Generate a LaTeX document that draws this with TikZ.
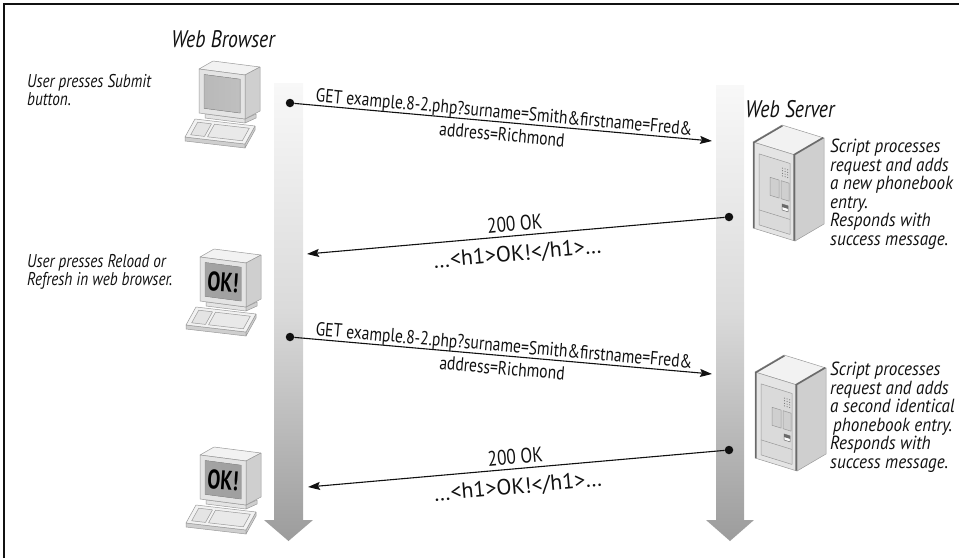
\documentclass[tikz,border=0pt]{standalone}
\usepackage{fontspec}
\setmainfont{PT Sans}[FakeStretch=0.82]
\newfontfamily\notefont{PT Sans}[FakeStretch=0.9]
\newfontfamily\widefont{PT Sans}
\newfontfamily\okfont{PT Sans}[FakeStretch=0.72]
\usetikzlibrary{arrows.meta}

\definecolor{ink}{HTML}{111111}
\definecolor{faceF}{HTML}{E4E4E4}
\definecolor{faceT}{HTML}{F2F2F2}
\definecolor{faceS}{HTML}{CFCFCF}
\definecolor{edge}{HTML}{9A9A9A}
\definecolor{rail}{HTML}{6A6A6A}
\definecolor{panel}{HTML}{DADADA}
\definecolor{keys}{HTML}{E9E9E9}
\definecolor{bandtop}{HTML}{F8F8F8}
\definecolor{bandmid}{HTML}{DADADA}
\definecolor{bandbot}{HTML}{9C9C9C}

\tikzset{
  part/.style={draw=edge, line width=0.5pt, line join=round},
  band/.style={top color=bandtop, bottom color=bandbot, middle color=bandmid},
  msg/.style={draw=ink, line width=1.1pt, -{Stealth[length=12pt,width=8pt,inset=2pt]}},
  dot/.style={circle, fill=ink, inner sep=0pt, minimum size=8.5pt},
  reqtext/.style={font=\fontsize{19}{21}\selectfont, text=ink, sloped, inner sep=0pt},
  resptext/.style={font=\fontsize{21}{24}\selectfont, text=ink, sloped, inner sep=0pt},
  bodytext/.style={font=\widefont\fontsize{22}{24}\selectfont, text=ink, sloped, inner sep=0pt},
  role/.style={font=\fontsize{24}{26}\selectfont\itshape, text=ink},
  note/.style={font=\fontsize{18.5}{17.8}\selectfont\itshape, text=ink, align=left,
    inner sep=0pt, anchor=north west},
  srvnote/.style={note, font=\notefont\fontsize{19}{18.5}\selectfont\itshape},
  screenblank/.style={left color=gray!55, middle color=gray!12, right color=gray!50},
  screenok/.style={left color=gray!72, middle color=gray!25, right color=gray!75},
  okmark/.style={font=\okfont\fontsize{27}{27}\selectfont\bfseries, text=black, inner sep=0pt},
  % desktop computer: monitor, stand and keyboard; #1 is the screen fill
  pics/pc/.style={code={
    \filldraw[part, fill=faceF] (6,44.8) -- (46,50) -- (46,54) -- (6,49) -- cycle;
    \filldraw[part, fill=faceS] (46,50) -- (57,45) -- (57,49) -- (46,54) -- cycle;
    \filldraw[part, fill=faceT] (0,0) -- (14,-8) -- (61,-2) -- (46,6) -- cycle;
    \filldraw[part, fill=faceS] (46,6) -- (61,-2) -- (61,42) -- (46,50) -- cycle;
    \filldraw[part, fill=faceF] (0,0) -- (46,6) -- (46,50) -- (0,44) -- cycle;
    \filldraw[part, #1] (5,5.5) -- (41,10.2) -- (41,44) -- (5,39.3) -- cycle;
    \filldraw[part, fill=faceS] (-14,68) -- (46,75) -- (46,79) -- (-14,72) -- cycle;
    \filldraw[part, fill=faceS] (46,75) -- (56,57) -- (56,61) -- (46,79) -- cycle;
    \filldraw[part, fill=faceT] (-4,50) -- (56,57) -- (46,75) -- (-14,68) -- cycle;
    \filldraw[part, fill=faceF] (-1.3,53.2) -- (12.5,54.8) -- (5.5,67.4) -- (-8.3,65.8) -- cycle;
    \filldraw[part, fill=keys] (15.5,55.2) -- (50.3,59.2) -- (43.3,71.8) -- (8.5,67.8) -- cycle;
  }},
  pics/pcok/.style={code={
    \pic {pc=screenok};
    \node[okmark, rotate=-4] (-ok) at (23,25) {OK!};
  }},
  % rack server cabinet seen from the front left
  pics/server/.style={code={
    \filldraw[part, fill=faceT] (0,0) -- (29,-17) -- (71,-4) -- (42,13) -- cycle;
    \filldraw[part, fill=faceS] (42,13) -- (71,-4) -- (71,82) -- (42,99) -- cycle;
    \begin{scope}[yslant=-0.3095]
      \filldraw[part, fill=faceF] (0,0) rectangle (42,86);
      \filldraw[part, fill=panel] (6,10) rectangle (37,81);
      \foreach \i in {0,1,2}
        \foreach \j in {0,1,2,3}
          \fill[rail] (29.5+2.6*\i,17+2.6*\j) circle[radius=0.55pt];
      \filldraw[part, fill=faceS] (17,30) rectangle (26,48);
      \filldraw[part, fill=faceS] (28,30) rectangle (36,48);
      \filldraw[draw=rail, fill=white, line width=0.5pt] (29,53) rectangle (35,59);
      \fill[rail] (29,53) rectangle (35,56);
      \draw[part] (6,66) -- (37,66);
    \end{scope}
    \draw[rail, line width=1.5pt] (0.8,86.2) -- (0.8,0.5) -- (29.5,-16.3);
    \draw[rail, line width=1.5pt] (41,98.7) -- (41,12.7) -- (70.2,-4.4);
  }},
}

\begin{document}
\begin{tikzpicture}[x=1pt,y=-1pt]
\useasboundingbox (0,0) rectangle (959,558);

% frame
\draw[ink, line width=1.4pt] (4,558) -- (4,4) -- (959,4);

% lifelines
\path[band] (274,83) -- (303,83) -- (303,520) -- (313,520) -- (288.5,541)
  -- (264,520) -- (274,520) -- cycle;
\path[band] (716,85) -- (744,85) -- (744,520) -- (754,520) -- (730,541)
  -- (706,520) -- (716,520) -- cycle;

% headings
\node[role] (wb) at (223,39) {Web Browser};
\node[role] (ws) at (790,109) {Web Server};

% browser side
\pic (pc1) at (199,69) {pc=screenblank};
\pic (pc2) at (200,257) {pcok};
\pic (pc3) at (200,455) {pcok};
\node[note] (n1) at (27,74) {User presses Submit\\button.};
\node[note] (n2) at (27,254) {User presses Reload or\\Refresh in web browser.};

% server side
\pic (sv1) at (753,142) {server};
\pic (sv2) at (755,372) {server};
\node[srvnote] (n3) at (830,139) {Script processes\\request and adds\\a new phonebook\\entry.\\Responds with\\success message.};
\node[srvnote] (n4) at (830,362) {Script processes\\request and adds\\a second identical\\\hspace*{3pt}phonebook entry.\\Responds with\\success message.};

% first request and response
\node[dot] (g1) at (290,103) {};
\coordinate (g1e) at (712,141);
\draw[msg] (g1) -- node[reqtext, above=-0.5pt] (g1t) {GET example.8-2.php?surname=Smith\&firstname=Fred\&}
  node[reqtext, below=5pt] (g1u) {address=Richmond} (g1e);

\node[dot] (r1) at (729,217) {};
\coordinate (r1e) at (307,254);
\draw[msg] (r1) -- node[resptext, above=4pt] (r1t) {200 OK}
  node[bodytext, below=9pt] (r1u) {…<h1>OK!</h1>…} (r1e);

% repeated request and response
\node[dot] (g2) at (290,337) {};
\coordinate (g2e) at (712,374);
\draw[msg] (g2) -- node[reqtext, above=-0.5pt] (g2t) {GET example.8-2.php?surname=Smith\&firstname=Fred\&}
  node[reqtext, below=5pt] (g2u) {address=Richmond} (g2e);

\node[dot] (r2) at (729,450) {};
\coordinate (r2e) at (308,487);
\draw[msg] (r2) -- node[resptext, above=4pt] (r2t) {200 OK}
  node[bodytext, below=9pt] (r2u) {…<h1>OK!</h1>…} (r2e);
\end{tikzpicture}
\end{document}
